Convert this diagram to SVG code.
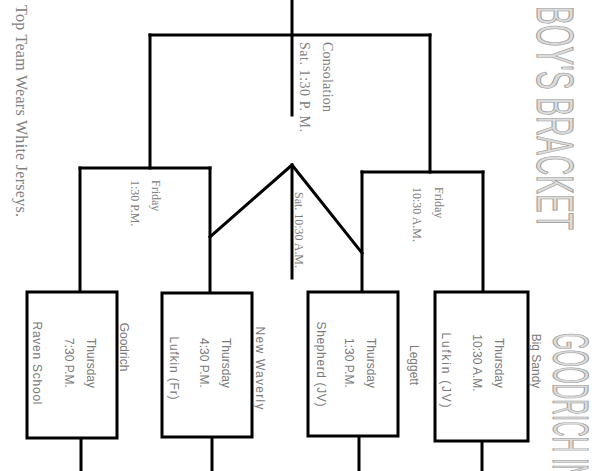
<svg xmlns="http://www.w3.org/2000/svg" width="595" height="471" viewBox="0 0 595 471">
<style>
.ln{stroke:#000;stroke-width:3;fill:none;stroke-linecap:square}
.box{stroke:#000;stroke-width:3;fill:#fff}
.serif{font-family:"Liberation Serif","Times New Roman",serif;fill:#808080}
.sans{font-family:"Liberation Sans",Arial,sans-serif;fill:#7a7a7a;font-size:12px}
.title{font-family:"Liberation Sans",Arial,sans-serif;fill:#dcdcdc;stroke:#9a9a9a;stroke-width:1}
</style>
<rect width="595" height="471" fill="#fff"/>
<g id="connectors">
<line class="ln" x1="292" y1="0" x2="292" y2="115"/>
<line class="ln" x1="150" y1="35" x2="430" y2="35"/>
<line class="ln" x1="150" y1="35" x2="150" y2="168"/>
<line class="ln" x1="430" y1="35" x2="430" y2="172"/>
<line class="ln" x1="80" y1="168" x2="210" y2="168"/>
<line class="ln" x1="80" y1="168" x2="80" y2="292"/>
<line class="ln" x1="210" y1="168" x2="210" y2="293"/>
<polyline class="ln" points="210,237 292,165 362,253" stroke-linejoin="miter"/>
<line class="ln" x1="292" y1="165" x2="292" y2="278"/>
<line class="ln" x1="362" y1="172" x2="483" y2="172"/>
<line class="ln" x1="362" y1="172" x2="362" y2="292"/>
<line class="ln" x1="483" y1="172" x2="483" y2="292"/>
<line class="ln" x1="81" y1="438" x2="81" y2="471"/>
<line class="ln" x1="212" y1="437" x2="212" y2="471"/>
<line class="ln" x1="359" y1="436" x2="359" y2="471"/>
<line class="ln" x1="482" y1="441" x2="482" y2="471"/>
</g>
<g id="title">
<text class="title" font-size="52" transform="translate(537,6) rotate(90)" textLength="224" lengthAdjust="spacingAndGlyphs">BOY'S BRACKET</text>
<text class="title" font-size="50" transform="translate(553,333) rotate(90)" textLength="147" lengthAdjust="spacingAndGlyphs">GOODRICH IN</text>
</g>
<g id="note">
<text class="serif" font-size="16" transform="translate(16,5) rotate(90)" textLength="212" lengthAdjust="spacing">Top Team Wears White Jerseys.</text>
</g>
<g id="consolation">
<text class="serif" font-size="14" transform="translate(323,42) rotate(90)" textLength="70" lengthAdjust="spacing">Consolation</text>
<text class="serif" font-size="14" transform="translate(300,42) rotate(90)" textLength="90" lengthAdjust="spacing">Sat.  1:30 P. M.</text>
</g>
<g id="friday-left">
<text class="serif" font-size="12" transform="translate(152,180) rotate(90)">Friday</text>
<text class="serif" font-size="12" transform="translate(131,180) rotate(90)">1:30 P.M.</text>
</g>
<g id="friday-right">
<text class="serif" font-size="12" transform="translate(435,187) rotate(90)">Friday</text>
<text class="serif" font-size="12" transform="translate(413,187) rotate(90)">10:30 A.M.</text>
</g>
<g id="semifinal">
<text class="serif" font-size="12" transform="translate(295,192) rotate(90)" textLength="76" lengthAdjust="spacing">Sat.  10:30 A.M.</text>
</g>
<g id="game1">
<rect class="box" x="27" y="292" width="90" height="146"/>
<text class="sans" text-anchor="middle" transform="translate(87,363) rotate(90)">Thursday</text>
<text class="sans" text-anchor="middle" transform="translate(65,363) rotate(90)">7:30 P.M.</text>
<text class="sans" text-anchor="middle" transform="translate(33,363) rotate(90)" textLength="83" lengthAdjust="spacing">Raven School</text>
<text class="sans" text-anchor="middle" transform="translate(120,347) rotate(90)">Goodrich</text>
</g>
<g id="game2">
<rect class="box" x="162" y="293" width="90" height="144"/>
<text class="sans" text-anchor="middle" transform="translate(222,363) rotate(90)">Thursday</text>
<text class="sans" text-anchor="middle" transform="translate(200,363) rotate(90)">4:30 P.M.</text>
<text class="sans" text-anchor="middle" transform="translate(170,368) rotate(90)" textLength="63" lengthAdjust="spacing">Lufkin (Fr)</text>
<text class="sans" text-anchor="middle" transform="translate(256,368) rotate(90)" textLength="83" lengthAdjust="spacing">New Waverly</text>
</g>
<g id="game3">
<rect class="box" x="308" y="292" width="90" height="144"/>
<text class="sans" text-anchor="middle" transform="translate(367,363) rotate(90)">Thursday</text>
<text class="sans" text-anchor="middle" transform="translate(345,363) rotate(90)">1:30 P.M.</text>
<text class="sans" text-anchor="middle" transform="translate(317,364) rotate(90)" textLength="85" lengthAdjust="spacing">Shepherd (JV)</text>
<text class="sans" text-anchor="middle" transform="translate(410,365) rotate(90)">Leggett</text>
</g>
<g id="game4">
<rect class="box" x="435" y="292" width="93" height="149"/>
<text class="sans" text-anchor="middle" transform="translate(495,363) rotate(90)">Thursday</text>
<text class="sans" text-anchor="middle" transform="translate(473,363) rotate(90)">10:30 A.M.</text>
<text class="sans" text-anchor="middle" transform="translate(442,370) rotate(90)" textLength="75" lengthAdjust="spacing">Lufkin (JV)</text>
<text class="sans" text-anchor="middle" transform="translate(532,361) rotate(90)">Big Sandy</text>
</g>
</svg>
